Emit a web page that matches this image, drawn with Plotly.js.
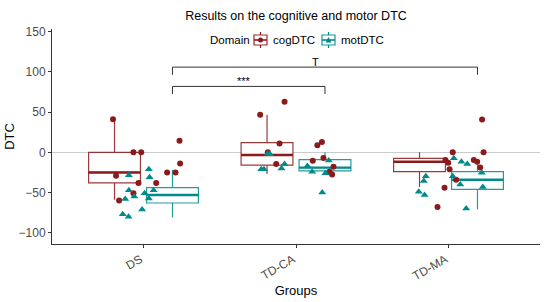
<!DOCTYPE html>
<html>
<head>
<meta charset="utf-8">
<script src="https://cdn.plot.ly/plotly-3.0.1.min.js"></script>
<style>
  html, body { margin: 0; padding: 0; background: #fff; }
  #chart { width: 550px; height: 302px; }
</style>
</head>
<body>
<div id="chart"></div>
<script>
// groups on the x axis
const groups = ['DS', 'TD-CA', 'TD-MA'];

// cognitive DTC: values and horizontal jitter (category units) per group
const cogDS = [41, 0, 0, -29, -38, -38, -51, -60, -25, -25, -14, 14.5];
const cogDSJit = [-0.20, -0.066, -0.015, -0.18, -0.033, 0.083, -0.066, -0.16, 0.155, 0.21, 0.24, 0.236];
const cogCA = [46.6, 63, 11, 0, -14.6, -10.5, 8.7, 13, -7, -18, -24, -27.5];
const cogCAJit = [-0.235, -0.075, -0.108, -0.185, -0.13, 0.11, 0.14, 0.17, 0.18, 0.246, 0.22, 0.237];
const cogMA = [40.8, 0, 0, -9.6, -13, -9.6, -11.7, -18.8, -21, -34, -44, -68];
const cogMAJit = [0.22, 0.028, 0.23, -0.02, -0.002, 0.166, 0.188, 0.208, 0.007, 0.05, -0.026, -0.072];

// motor DTC
const motDS = [-21, -28.5, -31, -47, -47, -58, -55, -51, -57.5, -71, -77, -80];
const motDSJit = [0.035, -0.096, 0.04, -0.096, 0.066, -0.12, -0.06, 0.007, 0.035, -0.009, -0.136, -0.098];
const motCA = [-21, -21, -1.3, -2.5, -14.6, -20, -17, -24, -10, -26, -50];
const motCAJit = [-0.228, -0.21, -0.185, -0.17, -0.075, -0.095, 0.075, 0.106, 0.215, 0.193, 0.172];
const motMA = [-7.5, -11.7, -14.6, -25.5, -29.6, -29.6, -35.5, -40, -43, -49, -53, -70];
const motMAJit = [0.035, 0.085, 0.123, 0.218, 0.028, -0.149, -0.162, 0.077, 0.225, -0.195, -0.157, 0.116];

// box statistics
const cogQ1 = [-38, -16, -24];
const cogMed = [-25, -3.4, -11.7];
const cogQ3 = [0, 12, -7.5];
const cogLo = [-59, -27, -43];
const cogHi = [41, 46.6, 0];

const motQ1 = [-63, -23, -46];
const motMed = [-53, -19, -34];
const motQ3 = [-44, -9, -24];
const motLo = [-81, -28, -71];
const motHi = [-22, 0, -14.6];

// significance brackets
const bracketFrom = [1, 1];     // group index (1-based) of left end
const bracketTo = [3, 2];
const bracketY = [106, 82];
const bracketLabels = ['T', '***'];
const bracketLabelX = [2.13, 1.66];

// legend entries
const legendTitle = 'Domain';
const legendNames = ['cogDTC', 'motDTC'];

const COG = '#8B1A1A';
const MOT = '#008B8B';
const COLORS = [COG, MOT];
const DODGE = 0.19;
const BOXW = 0.34;
const TIP = 9.5;
const FONT = 'Liberation Sans, Arial, sans-serif';

// plot area in pixels (used for the hand drawn legend)
const M = { l: 52, r: 10, t: 29, b: 58 };
const PW = 550 - M.l - M.r, PH = 302 - M.t - M.b;
const px = x => (x - M.l) / PW;
const py = y => (302 - M.b - y) / PH;

const pos = groups.map((g, i) => i + 1);

function spread(valsList, jitList) {
    const x = [], y = [];
    valsList.forEach((vals, gi) => {
        vals.forEach((v, k) => {
            x.push(pos[gi] + jitList[gi][k]);
            y.push(v);
        });
    });
    return { x, y };
}

function medianSegments(med, off) {
    const x = [], y = [];
    med.forEach((m, i) => {
        x.push(pos[i] + off - BOXW / 2, pos[i] + off + BOXW / 2, null);
        y.push(m, m, null);
    });
    return { x, y };
}

function boxTrace(name, color, off, q1, med, q3, lo, hi) {
    return {
        type: 'box',
        name: name,
        x: pos.map(p => p + off),
        q1: q1, median: med, q3: q3,
        lowerfence: lo, upperfence: hi,
        width: BOXW,
        whiskerwidth: 0,
        boxpoints: false,
        fillcolor: 'rgba(255,255,255,1)',
        line: { color: color, width: 1.2 },
        opacity: 0.85,
        hoverinfo: 'skip',
        showlegend: false
    };
}

const cogPts = spread([cogDS, cogCA, cogMA], [cogDSJit, cogCAJit, cogMAJit]);
const motPts = spread([motDS, motCA, motMA], [motDSJit, motCAJit, motMAJit]);
const cogMedSeg = medianSegments(cogMed, -DODGE);
const motMedSeg = medianSegments(motMed, DODGE);

const traces = [
    boxTrace('cogDTC', COG, -DODGE, cogQ1, cogMed, cogQ3, cogLo, cogHi),
    boxTrace('motDTC', MOT, DODGE, motQ1, motMed, motQ3, motLo, motHi),
    {
        type: 'scatter', mode: 'lines', x: cogMedSeg.x, y: cogMedSeg.y,
        line: { color: COG, width: 2.4 }, showlegend: false, hoverinfo: 'skip'
    },
    {
        type: 'scatter', mode: 'lines', x: motMedSeg.x, y: motMedSeg.y,
        line: { color: MOT, width: 2.4 }, showlegend: false, hoverinfo: 'skip'
    },
    {
        type: 'scatter', mode: 'markers', x: cogPts.x, y: cogPts.y,
        marker: { symbol: 'circle', size: 6, color: COG },
        showlegend: false
    },
    {
        type: 'scatter', mode: 'markers', x: motPts.x, y: motPts.y,
        marker: { symbol: 'triangle-up', size: 7, color: MOT },
        showlegend: false
    }
];

// brackets
bracketFrom.forEach((f, i) => {
    const x0 = f + DODGE, x1 = bracketTo[i] + DODGE, yb = bracketY[i];
    traces.push({
        type: 'scatter', mode: 'lines',
        x: [x0, x0, x1, x1],
        y: [yb - TIP, yb, yb, yb - TIP],
        line: { color: '#333333', width: 1 },
        showlegend: false, hoverinfo: 'skip'
    });
});

const annotations = bracketLabels.map((t, i) => ({
    x: bracketLabelX[i], y: bracketY[i],
    xref: 'x', yref: 'y',
    text: t, showarrow: false,
    yanchor: 'bottom', yshift: -3,
    font: { family: FONT, size: 11, color: '#000' }
}));

// legend drawn by hand (ggplot style key: box + whiskers + point)
const shapes = [];
const legY = 40;
const LEGF = 11.5;
const titleX = 208;
const keyX = [254, 322];
const textX = [271, 339];
annotations.push({
    x: px(titleX), y: py(legY), xref: 'paper', yref: 'paper',
    xanchor: 'left', yanchor: 'middle', showarrow: false,
    text: legendTitle, font: { family: FONT, size: LEGF, color: '#000' }
});
legendNames.forEach((name, i) => {
    const c = COLORS[i];
    const x0 = keyX[i], x1 = keyX[i] + 13, xc = keyX[i] + 6.5;
    shapes.push(
        { type: 'rect', xref: 'paper', yref: 'paper', x0: px(x0), x1: px(x1), y0: py(legY + 5), y1: py(legY - 5),
          line: { color: c, width: 1.2 }, fillcolor: 'white', opacity: 0.9 },
        { type: 'line', xref: 'paper', yref: 'paper', x0: px(xc), x1: px(xc), y0: py(legY - 5), y1: py(legY - 8),
          line: { color: c, width: 1.2 } },
        { type: 'line', xref: 'paper', yref: 'paper', x0: px(xc), x1: px(xc), y0: py(legY + 5), y1: py(legY + 8),
          line: { color: c, width: 1.2 } },
        { type: 'line', xref: 'paper', yref: 'paper', x0: px(x0), x1: px(x1), y0: py(legY), y1: py(legY),
          line: { color: c, width: 1.6 } }
    );
    if (i === 0) {
        shapes.push({ type: 'circle', xref: 'paper', yref: 'paper',
            x0: px(xc - 2.5), x1: px(xc + 2.5), y0: py(legY + 2.5), y1: py(legY - 2.5),
            fillcolor: c, line: { width: 0 } });
    } else {
        shapes.push({ type: 'path', xref: 'paper', yref: 'paper',
            path: `M ${px(xc - 3)} ${py(legY + 2.5)} L ${px(xc + 3)} ${py(legY + 2.5)} L ${px(xc)} ${py(legY - 3)} Z`,
            fillcolor: c, line: { width: 0 } });
    }
    annotations.push({
        x: px(textX[i]), y: py(legY), xref: 'paper', yref: 'paper',
        xanchor: 'left', yanchor: 'middle', showarrow: false,
        text: name, font: { family: FONT, size: LEGF, color: '#000' }
    });
});

const layout = {
    width: 550,
    height: 302,
    margin: M,
    paper_bgcolor: '#fff',
    plot_bgcolor: '#fff',
    font: { family: FONT, size: 12, color: '#000' },
    title: {
        text: 'Results on the cognitive and motor DTC',
        font: { size: 12.5, color: '#000' },
        xref: 'paper', x: 0.5, xanchor: 'center',
        y: 0.947, yanchor: 'middle'
    },
    xaxis: {
        range: [0.4, 3.6],
        tickvals: pos,
        ticktext: groups,
        tickangle: -30,
        ticklabelshift: -3,
        ticks: 'outside', ticklen: 3, tickcolor: '#333',
        tickfont: { size: 12, color: '#4D4D4D' },
        showline: true, linecolor: '#333', linewidth: 1,
        showgrid: false, zeroline: false,
        title: { text: 'Groups', font: { size: 13, color: '#000' }, standoff: 3 }
    },
    yaxis: {
        range: [-114, 153.4],
        tickvals: [-100, -50, 0, 50, 100, 150],
        ticks: 'outside', ticklen: 3, tickcolor: '#333',
        tickfont: { size: 12, color: '#4D4D4D' },
        showline: true, linecolor: '#333', linewidth: 1,
        showgrid: false,
        zeroline: true, zerolinecolor: '#cccccc', zerolinewidth: 1,
        title: { text: 'DTC', font: { size: 13, color: '#000' }, standoff: 1 }
    },
    showlegend: false,
    shapes: shapes,
    annotations: annotations,
    boxmode: 'overlay'
};

Plotly.newPlot('chart', traces, layout, { displayModeBar: false, staticPlot: true });
</script>
</body>
</html>
